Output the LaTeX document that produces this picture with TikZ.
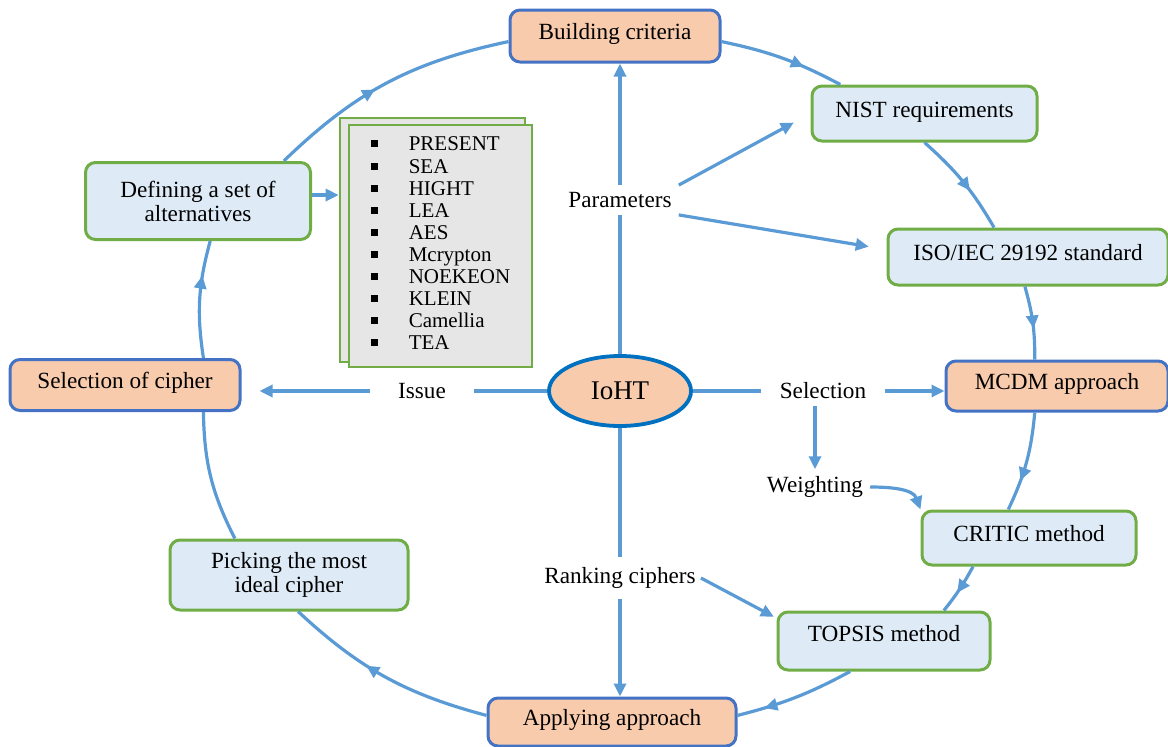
\documentclass[tikz,border=0pt]{standalone}
\usepackage{fontspec}
\setmainfont{Liberation Serif}
\usepackage{tikz}
\usetikzlibrary{arrows.meta,shapes.geometric,decorations.markings}
\definecolor{linkblue}{RGB}{91,155,213}
\definecolor{edgeblue}{RGB}{68,114,196}
\definecolor{edgegreen}{RGB}{112,173,71}
\definecolor{peach}{RGB}{248,203,173}
\definecolor{paleblue}{RGB}{222,235,247}
\definecolor{listgray}{RGB}{231,230,230}
\definecolor{ringblue}{RGB}{0,112,192}
\newcommand{\sq}{\rule[3.5pt]{7pt}{7pt}}

\tikzset{
  box/.style={draw, line width=3pt, rounded corners=10pt, inner sep=0pt, align=center,
    text height=16pt, text depth=9pt, font=\fontsize{23.2}{24}\selectfont},
  stepbox/.style={box, draw=edgeblue, fill=peach},
  taskbox/.style={box, draw=edgegreen, fill=paleblue},
  lbl/.style={inner sep=7pt, font=\fontsize{23.2}{24}\selectfont},
  link/.style={draw=linkblue, color=linkblue, line width=3.2pt},
  flow/.style={link, -{Triangle[length=13pt,width=12pt]}},
  midarrow/.style={postaction={decorate, decoration={markings,
    mark=at position #1 with {\arrow{Triangle[length=13pt,width=12pt]}}}}},
}

\begin{document}
\begin{tikzpicture}[x=1pt,y=1pt,yscale=-1]
\useasboundingbox (0,0) rectangle (1168,747);

%Shape: Rounded Rectangles (cycle steps)
\node[stepbox, minimum width=210, minimum height=52] (bc) at (615,36) {Building criteria};
\node[taskbox, minimum width=225, minimum height=55] (nist) at (924.5,113.5) {NIST requirements};
\node[taskbox, minimum width=280, minimum height=56] (iso) at (1028,257) {ISO/IEC 29192 standard};
\node[stepbox, minimum width=222, minimum height=50] (mcdm) at (1057,386) {MCDM approach};
\node[taskbox, minimum width=214, minimum height=54] (critic) at (1029,538) {CRITIC method};
\node[taskbox, minimum width=212, minimum height=58, text depth=15pt] (topsis) at (884,641) {TOPSIS method};
\node[stepbox, minimum width=248, minimum height=48] (apply) at (612,722) {Applying approach};
\node[taskbox, minimum width=238, minimum height=70, text height={}, text depth={}] (pick) at (289,575) {Picking the most\\ideal cipher};
\node[stepbox, minimum width=230, minimum height=51] (sel) at (125,385) {Selection of cipher};
\node[taskbox, minimum width=225, minimum height=77, text height={}, text depth={}] (def) at (198,201) {Defining a set of\\alternatives};

%Shape: Rectangles (list of ciphers)
\node[draw=edgegreen, fill=listgray, line width=2.6pt, minimum width=185, minimum height=244] (listb) at (432.5,240) {};
\node[draw=edgegreen, fill=listgray, line width=2.6pt, minimum width=183, minimum height=242,
  font=\fontsize{21}{22.1}\selectfont] (listf) at (440.5,246) {%
  \begin{tabular}{@{}l@{\hspace{31pt}}l@{}}
  \sq & PRESENT\\ \sq & SEA\\ \sq & HIGHT\\ \sq & LEA\\ \sq & AES\\
  \sq & Mcrypton\\ \sq & NOEKEON\\ \sq & KLEIN\\ \sq & Camellia\\ \sq & TEA
  \end{tabular}};

%Shape: Ellipse
\node[ellipse, draw=ringblue, fill=peach, line width=3.8pt, minimum width=142, minimum height=70,
  inner sep=0pt, font=\fontsize{27}{28}\selectfont] (ioht) at (620,391) {IoHT};

% Text Node
\node[lbl] (params) at (620,200) {Parameters};
% Text Node
\node[lbl, inner xsep=28pt] (issue) at (422,391) {Issue};
% Text Node
\node[lbl, inner xsep=19pt] (selec) at (823,391) {Selection};
% Text Node
\node[lbl] (weight) at (815,487) {Weighting};
% Text Node
\node[lbl, inner xsep=5pt, inner ysep=10pt] (rank) at (620,578) {Ranking ciphers};

%Curve Lines (outer cycle)
\draw[link, midarrow=0.68] (bc.-3) to[bend right=8] (nist.161);
\draw[link, midarrow=0.6] (nist.south) to[bend right=9] (iso.139);
\draw[link, midarrow=0.58] (iso.-96) to[bend right=8] (mcdm.130);
\draw[link, midarrow=0.69] (mcdm.-130) to[bend right=10] (critic.126);
\draw[link, midarrow=0.58] (critic.-153) to[bend right=5] (topsis.27);
\draw[link, midarrow=0.77] (topsis.-138) to[bend right=7] (apply.3);
\draw[link, midarrow=0.6] (apply.177) to[bend right=14] (pick.-76);
\draw[link] (pick.146) to[bend right=13] (sel.-19);
\draw[link, midarrow=0.7] (sel.19) to[bend right=12] (def.-73);
\draw[link, midarrow=0.45] (def.25) to[bend right=16] (bc.-177);

%Straight Lines (from the hub)
\draw[link] (ioht.north) -- (params.south);
\draw[flow] (params.north) -- (params.north |- bc.south);
\draw[flow, shorten >=19pt] (params.north east) -- (nist.west);
\draw[flow, shorten >=18pt] (params.south east) -- (iso.177);
\draw[link] (ioht.west) -- (issue.east);
\draw[flow, shorten >=18pt] (issue.west) -- (issue.west -| sel.east);
\draw[link] (ioht.east) -- (selec.west);
\draw[flow] (selec.east) -- (selec.east -| mcdm.west);
\draw[flow] (selec.south -| weight.north) -- (weight.north);
\draw[flow] (weight.east) to[out=0, in=-110] (critic.north west);
\draw[link] (ioht.south) -- (rank.north);
\draw[flow] (rank.south) -- (rank.south |- apply.north);
\draw[flow, shorten >=3pt] (rank.east) -- (topsis.168);
\draw[flow] (def.3) -- (def.3 -| listb.west);

\end{tikzpicture}
\end{document}
